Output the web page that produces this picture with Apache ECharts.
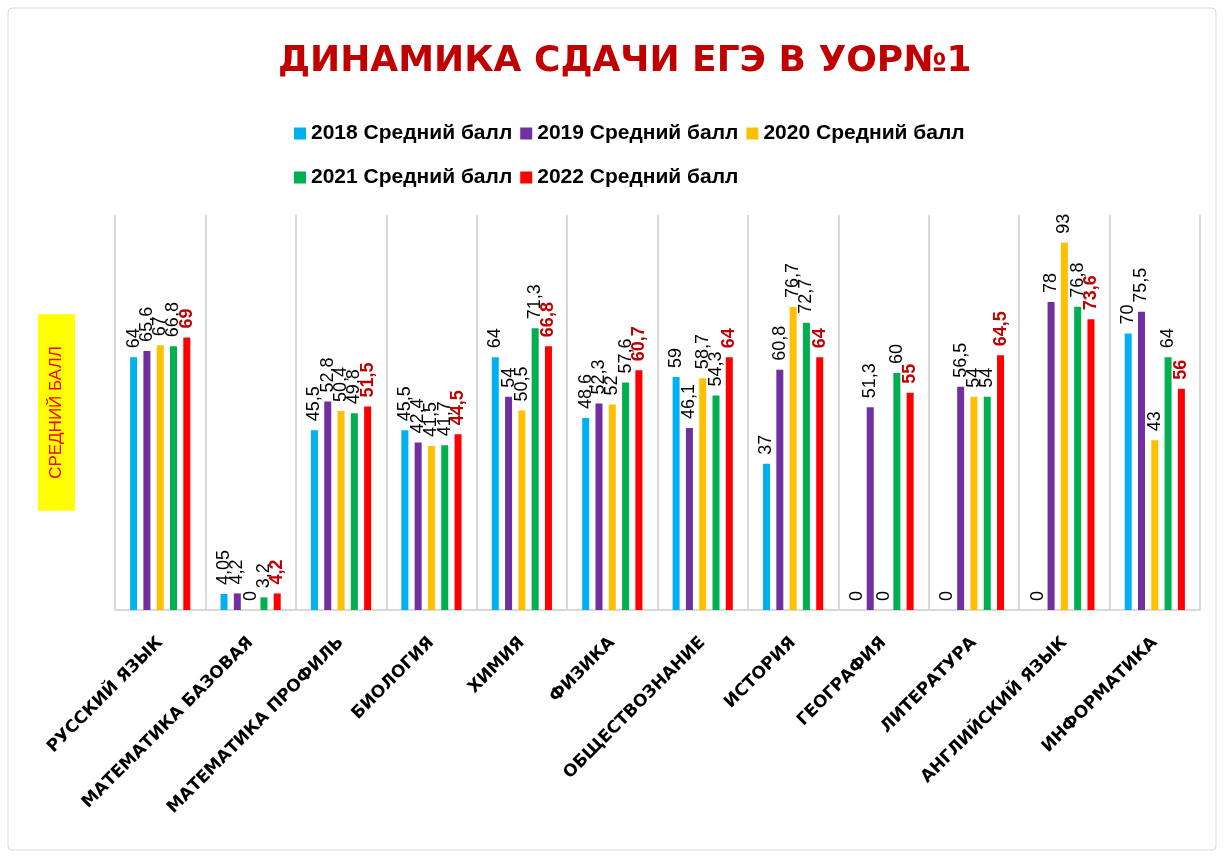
<!DOCTYPE html>
<html>
<head>
<meta charset="utf-8">
<script src="https://cdn.jsdelivr.net/npm/echarts@6/dist/echarts.min.js"></script>
<style>
  html, body { margin: 0; padding: 0; background: #fff; }
  #main { width: 1224px; height: 857px; }
</style>
</head>
<body>
<div id="main"></div>
<script>
// subjects
var subjects = ['РУССКИЙ ЯЗЫК', 'МАТЕМАТИКА БАЗОВАЯ', 'МАТЕМАТИКА ПРОФИЛЬ', 'БИОЛОГИЯ', 'ХИМИЯ', 'ФИЗИКА',
    'ОБЩЕСТВОЗНАНИЕ', 'ИСТОРИЯ', 'ГЕОГРАФИЯ', 'ЛИТЕРАТУРА', 'АНГЛИЙСКИЙ ЯЗЫК', 'ИНФОРМАТИКА'];

var seriesNames = ['2018 Средний балл', '2019 Средний балл', '2020 Средний балл', '2021 Средний балл', '2022 Средний балл'];
var seriesColors = ['#00B0F0', '#7030A0', '#FFC000', '#00B050', '#FF0000'];

var score2018 = [64, 4.05, 45.5, 45.5, 64, 48.6, 59, 37, 0, 0, 0, 70];
var score2019 = [65.6, 4.2, 52.8, 42.4, 54, 52.3, 46.1, 60.8, 51.3, 56.5, 78, 75.5];
var score2020 = [67, 0, 50.4, 41.5, 50.5, 52, 58.7, 76.7, 0, 54, 93, 43];
var score2021 = [66.8, 3.2, 49.8, 41.7, 71.3, 57.6, 54.3, 72.7, 60, 54, 76.8, 64];
var score2022 = [69, 4.2, 51.5, 44.5, 66.8, 60.7, 64, 64, 55, 64.5, 73.6, 56];

var allScores = [score2018, score2019, score2020, score2021, score2022];

var myChart = echarts.init(document.getElementById('main'));

function fmt(p) {
    return String(p.value).replace('.', ',');
}

var series = seriesNames.map(function(name, i) {
    var last = i === 4;
    return {
        name: name,
        type: 'bar',
        data: allScores[i],
        barWidth: 7,
        barGap: '90%',
        itemStyle: { color: seriesColors[i] },
        animation: false,
        label: {
            show: true,
            position: 'top',
            rotate: 90,
            align: 'left',
            verticalAlign: 'middle',
            distance: 9,
            formatter: fmt,
            fontFamily: 'Liberation Sans',
            fontSize: 18,
            fontWeight: last ? 'bold' : 'normal',
            color: last ? '#C00000' : '#000'
        }
    };
});

var legendText = { fontFamily: 'Liberation Sans', fontWeight: 'bold', fontSize: 21, color: '#000' };

var option = {
    backgroundColor: '#fff',
    title: {
        text: 'ДИНАМИКА СДАЧИ ЕГЭ В УОР№1',
        left: 273,
        top: 39,
        textStyle: {
            fontFamily: 'DejaVu Sans',
            fontWeight: 'bold',
            fontSize: 36,
            color: '#C00000'
        }
    },
    legend: [{
        data: seriesNames.slice(0, 3),
        left: 289,
        top: 118,
        itemWidth: 12,
        itemHeight: 12,
        itemGap: 8,
        icon: 'rect',
        textStyle: legendText
    }, {
        data: seriesNames.slice(3),
        left: 289,
        top: 162,
        itemWidth: 12,
        itemHeight: 12,
        itemGap: 8,
        icon: 'rect',
        textStyle: legendText
    }],
    grid: { left: 115, right: 24, top: 215, bottom: 247 },
    xAxis: {
        type: 'category',
        data: subjects,
        axisLine: { lineStyle: { color: '#d9d9d9', width: 2 } },
        axisTick: { show: false },
        splitLine: { show: true, lineStyle: { color: '#d9d9d9', width: 2 } },
        axisLabel: {
            interval: 0,
            rotate: 45,
            margin: 30,
            fontFamily: 'DejaVu Sans',
            fontWeight: 'bold',
            fontSize: 17,
            color: '#000'
        }
    },
    yAxis: {
        type: 'value',
        min: 0,
        max: 100,
        axisLine: { show: false },
        axisTick: { show: false },
        axisLabel: { show: false },
        splitLine: { show: false },
        name: 'СРЕДНИЙ БАЛЛ',
        nameLocation: 'middle',
        nameRotate: 90,
        nameGap: 40,
        nameTextStyle: {
            fontFamily: 'Liberation Sans',
            fontSize: 17,
            color: '#FF0000',
            backgroundColor: '#FFFF00',
            padding: [10, 32, 10, 32]
        }
    },
    graphic: [{
        type: 'rect',
        shape: { x: 8, y: 8, width: 1208, height: 842, r: 4 },
        style: { fill: null, stroke: '#d9d9d9', lineWidth: 1 },
        silent: true
    }],
    series: series
};

myChart.setOption(option);
</script>
</body>
</html>
